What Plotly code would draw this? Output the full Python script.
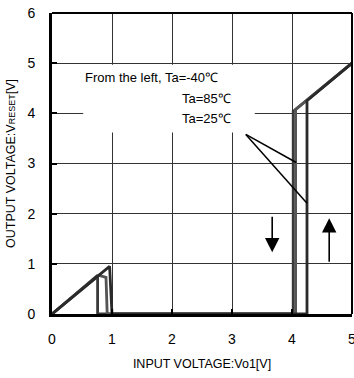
import plotly.graph_objects as go

# Data
temps = ["Ta=-40℃", "Ta=85℃", "Ta=25℃"]
x_m40 = [0, 0.76, 0.76, 4.02, 4.02, 5.0]
y_m40 = [0, 0.77, 0.0, 0.0, 4.04, 5.0]
x_85 = [0, 0.78, 0.90, 0.92, 4.06, 4.06, 5.0]
y_85 = [0, 0.77, 0.73, 0.0, 0.0, 4.08, 5.0]
x_25 = [0, 0.96, 1.00, 4.25, 4.25, 5.0]
y_25 = [0, 0.95, 0.0, 0.0, 4.25, 5.0]
series_x = [x_m40, x_85, x_25]
series_y = [y_m40, y_85, y_25]
colors = ["#3a3a3a", "#555555", "#2a2a2a"]

x_ticks = [0, 1, 2, 3, 4, 5]
y_ticks = [0, 1, 2, 3, 4, 5, 6]

fig = go.Figure()
for name, xs, ys, c in zip(temps, series_x, series_y, colors):
    fig.add_trace(go.Scatter(x=xs, y=ys, mode="lines", name=name,
                             line=dict(color=c, width=2.8), showlegend=False))

font = "Liberation Sans, Arial, sans-serif"

# white box behind the annotation text
fig.add_shape(type="rect", x0=0.52, x1=3.38, y0=3.62, y1=4.97,
              fillcolor="white", line=dict(width=0), layer="between")
# pointer lines
fig.add_shape(type="line", x0=3.23, y0=3.58, x1=4.07, y1=3.02,
              line=dict(color="black", width=1.5))
fig.add_shape(type="line", x0=3.23, y0=3.58, x1=4.25, y1=2.21,
              line=dict(color="black", width=1.5))
# top and right frame
fig.add_shape(type="line", xref="paper", yref="paper", x0=0, x1=1, y0=1, y1=1,
              line=dict(color="black", width=2))
fig.add_shape(type="line", xref="paper", yref="paper", x0=1, x1=1, y0=0, y1=1,
              line=dict(color="black", width=2))

fig.add_annotation(x=0.517, y=4.71, text="From the left, Ta=-40℃", showarrow=False,
                   xanchor="left", yanchor="middle", font=dict(size=13, color="black", family=font))
fig.add_annotation(x=2.13, y=4.29, text="Ta=85℃", showarrow=False,
                   xanchor="left", yanchor="middle", font=dict(size=13, color="black", family=font))
fig.add_annotation(x=2.13, y=3.90, text="Ta=25℃", showarrow=False,
                   xanchor="left", yanchor="middle", font=dict(size=13, color="black", family=font))

# arrows
fig.add_annotation(x=3.67, y=1.23, ax=3.67, ay=1.97, axref="x", ayref="y", xref="x", yref="y",
                   text="", showarrow=True, arrowhead=2, arrowsize=1.8, arrowwidth=1.6, arrowcolor="black")
fig.add_annotation(x=4.62, y=1.91, ax=4.62, ay=1.01, axref="x", ayref="y", xref="x", yref="y",
                   text="", showarrow=True, arrowhead=2, arrowsize=1.8, arrowwidth=1.6, arrowcolor="black")

fig.update_xaxes(range=[0, 5], tickvals=x_ticks, showgrid=True, gridcolor="#333333", gridwidth=1,
                 showline=True, linecolor="black", linewidth=3, ticks="inside", ticklen=5,
                 tickwidth=2, tickcolor="black", zeroline=False, ticklabelstandoff=10,
                 ticklabeloverflow="allow", automargin=False,
                 tickfont=dict(size=14, color="black", family=font),
                 title=dict(text="INPUT VOLTAGE:Vo1[V]", font=dict(size=12.5, color="black", family=font), standoff=14))
fig.update_yaxes(range=[0, 6], tickvals=y_ticks, showgrid=True, gridcolor="#333333", gridwidth=1,
                 showline=True, linecolor="black", linewidth=3, ticks="inside", ticklen=5,
                 tickwidth=2, tickcolor="black", zeroline=False, ticklabelstandoff=11,
                 automargin=False,
                 tickfont=dict(size=14, color="black", family=font),
                 title=dict(text="OUTPUT VOLTAGE:V<span style='font-size:9px'>RESET</span>[V]",
                            font=dict(size=12.5, color="black", family=font), standoff=10))

fig.update_layout(width=354, height=378, margin=dict(l=52, r=2, t=13, b=64),
                  plot_bgcolor="white", paper_bgcolor="white", showlegend=False)

fig.write_html("out.html")
